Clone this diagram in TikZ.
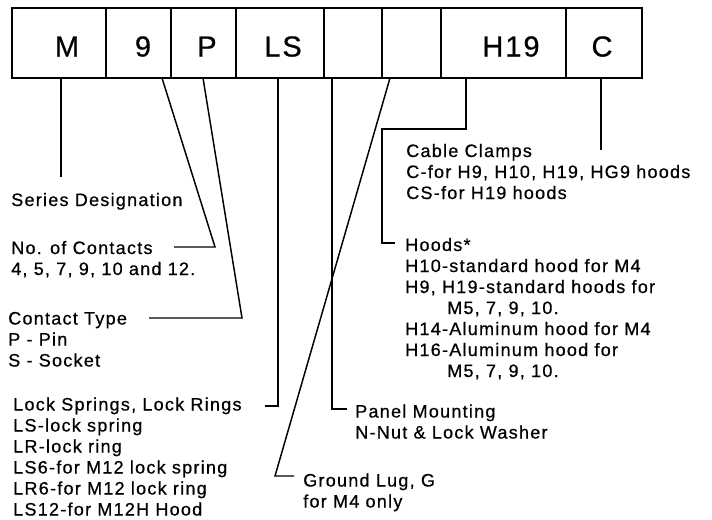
\documentclass[tikz,border=0pt]{standalone}
\usepackage{fontspec}
\setmainfont{Liberation Sans}[LetterSpace=7, FakeBold=0.6]
\newcommand\notefont{\fontsize{13.5}{15.75}\selectfont}
\newcommand\codefont{\fontsize{21.75}{26}\selectfont}
\tikzset{
  cell/.style={line width=1.4pt},
  lead/.style={line width=1.1pt},
  code/.style={anchor=base, inner sep=0pt, font=\codefont},
  note/.style={anchor=base west, align=left, inner sep=0pt, font=\notefont}
}
\begin{document}
\begin{tikzpicture}[x=0.75pt,y=-0.75pt]
	\useasboundingbox (0,0) rectangle (712,519);
	% part number boxes
	\draw[cell] (12,8) rectangle (106,78);
	\node[code] (cM) at (67,56.5) {M};
	\draw[cell] (106,8) rectangle (171,78);
	\node[code] (c9) at (143,56.5) {9};
	\draw[cell] (171,8) rectangle (236,78);
	\node[code] (cP) at (207,56.5) {P};
	\draw[cell] (236,8) rectangle (324,78);
	\node[code] (cLS) at (283,56.5) {LS};
	\draw[cell] (324,8) rectangle (382,78);
	\draw[cell] (382,8) rectangle (441,78);
	\draw[cell] (441,8) rectangle (566,78);
	\node[code] (cH) at (511,56.5) {H19};
	\draw[cell] (566,8) rectangle (642,78);
	\node[code] (cC) at (602,56.5) {C};

	% descriptions (placed by the baseline of their last line)
	\node[note] (series) at (11,206) {Series Designation};
	\node[note] (contacts) at (11,275) {No. of Contacts\\4, 5, 7, 9, 10 and 12.};
	\node[note] (ctype) at (8,366.5) {Contact Type\\P - Pin\\S - Socket};
	\node[note] (lock) at (13,515.5) {Lock Springs, Lock Rings\\LS-lock spring\\LR-lock ring\\LS6-for M12 lock spring\\LR6-for M12 lock ring\\LS12-for M12H Hood};
	\node[note] (panel) at (355,438.5) {Panel Mounting\\N-Nut \& Lock Washer};
	\node[note] (ground) at (303,507.5) {Ground Lug, G\\for M4 only};
	\node[note] (clamps) at (406,199) {Cable Clamps\\C-for H9, H10, H19, HG9 hoods\\CS-for H19 hoods};
	\node[note] (hoods) at (405,377) {Hoods*\\H10-standard hood for M4\\H9, H19-standard hoods for\\\hspace*{31.5pt}M5, 7, 9, 10.\\H14-Aluminum hood for M4\\H16-Aluminum hood for\\\hspace*{31.5pt}M5, 7, 9, 10.};

	% leader lines
	\coordinate (sM) at (61,78);   \coordinate (eM) at (61,177);
	\coordinate (s9) at (162,78);  \coordinate (k9) at (215,247);  \coordinate (e9) at (174,247);
	\coordinate (sP) at (203,78);  \coordinate (kP) at (242,318);  \coordinate (eP) at (149,318);
	\coordinate (sL) at (278,78);  \coordinate (kL) at (278,406);  \coordinate (eL) at (265,406);
	\coordinate (sN) at (332,78);  \coordinate (kN) at (332,409);  \coordinate (eN) at (347,409);
	\coordinate (sG) at (390,78);  \coordinate (kG) at (275,476);  \coordinate (eG) at (294,476);
	\coordinate (sH) at (466,78);  \coordinate (kH) at (466,129);  \coordinate (jH) at (382,129);
	\coordinate (mH) at (382,243); \coordinate (eH) at (395,243);
	\coordinate (sC) at (601,78);  \coordinate (eC) at (601,150);
	\draw[lead] (sM) -- (eM);
	\draw[lead] (s9) -- (k9) -- (e9);
	\draw[lead] (sP) -- (kP) -- (eP);
	\draw[lead] (sL) -- (kL) -- (eL);
	\draw[lead] (sN) -- (kN) -- (eN);
	\draw[lead] (sG) -- (kG) -- (eG);
	\draw[lead] (sH) -- (kH) -- (jH) -- (mH) -- (eH);
	\draw[lead] (sC) -- (eC);
\end{tikzpicture}
\end{document}
